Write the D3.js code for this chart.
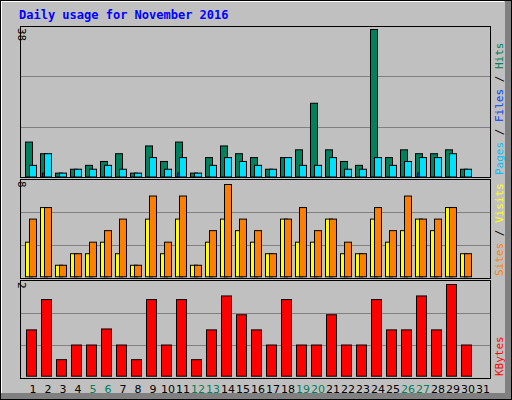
<!DOCTYPE html>
<html><head><meta charset="utf-8">
<script src="https://cdn.jsdelivr.net/npm/d3@7"></script>
<style>body{margin:0;background:#fff}</style></head>
<body><svg id="c" width="512" height="400"></svg>
<script>
const days = d3.range(1, 32);
const weekend = [5, 6, 12, 13, 19, 20, 26, 27];
const hits  = [9,6,1,2,3,4,6,1,8,4,9,1,5,8,6,5,2,5,7,19,7,4,3,38,5,7,6,6,7,2,0];
const files = [0,1,0,0,0,0,0,0,0,0,1,0,0,0,0,0,0,0,0,0,0,0,0,0,0,0,1,0,0,0,0];
const pages = [3,6,1,2,2,3,2,1,5,2,5,1,3,5,4,3,2,5,3,3,5,2,2,5,3,4,5,5,6,2,0];
const visits= [5,6,1,2,3,4,5,1,7,3,7,1,4,8,5,4,2,5,6,4,5,3,2,6,4,7,5,5,6,2,0];
const sites = [3,6,1,2,2,3,2,1,5,2,5,1,3,5,4,3,2,5,3,3,5,2,2,5,3,4,5,4,6,2,0];
const kbytes= [1.01,1.67,0.36,0.68,0.68,1.03,0.68,0.36,1.67,0.68,1.67,0.36,1.01,1.75,1.34,1.01,0.68,1.67,0.68,0.68,1.34,0.68,0.68,1.67,1.01,1.01,1.75,1.01,2.0,0.68,0];

const svg = d3.select("#c");
svg.append("rect").attr("x",0).attr("y",0).attr("width",512).attr("height",400).attr("fill","#c0c0c0");
svg.append("rect").attr("x",505).attr("y",0).attr("width",7).attr("height",400).attr("fill","#808080");
svg.append("rect").attr("x",0).attr("y",393).attr("width",512).attr("height",7).attr("fill","#808080");
svg.append("rect").attr("x",0.5).attr("y",0.5).attr("width",511).attr("height",399).attr("fill","none").attr("stroke","#000");
svg.append("line").attr("x1",1.5).attr("y1",1.5).attr("x2",504).attr("y2",1.5).attr("stroke","#fff");
svg.append("line").attr("x1",1.5).attr("y1",1.5).attr("x2",1.5).attr("y2",393).attr("stroke","#fff");

svg.append("text").attr("x",19).attr("y",19).text("Daily usage for November 2016")
  .attr("font-family","DejaVu Sans Mono").attr("font-weight","bold").attr("font-size",12).attr("fill","#0000ff");

const x = d3.scaleLinear().domain([1,31]).range([25,475]);
const mono = "DejaVu Sans Mono";

const panels = [
  {top:26, bot:177, base:176.5, maxY:29, max:38, label:"38",
   series:[{v:hits,c:"#00805c",dx:0,w:7},{v:files,c:"#0040ff",dx:2,w:7},{v:pages,c:"#00e0ff",dx:4,w:7}],
   legend:[["Pages","#00c0ff"],[" / ","#000"],["Files","#0040ff"],[" / ","#000"],["Hits","#00805c"]]},
  {top:179, bot:278, base:276.3, maxY:184, max:8, label:"8",
   series:[{v:sites,c:"#ffff00",dx:0,w:7},{v:visits,c:"#ff8000",dx:4,w:7}],
   legend:[["Sites","#ff8000"],[" / ","#000"],["Visits","#ffff00"]]},
  {top:280, bot:378, base:375.7, maxY:284, max:2, label:"2",
   series:[{v:kbytes,c:"#ff0000",dx:1,w:10}],
   legend:[["KBytes","#ff0000"]]}
];

panels.forEach(p => {
  const y = d3.scaleLinear().domain([0,p.max]).range([p.base,p.maxY]);
  svg.append("rect").attr("x",20.5).attr("y",p.top+0.5).attr("width",470).attr("height",p.bot-p.top)
     .attr("fill","#c0c0c0").attr("stroke","#000");
  const h = p.bot - p.top;
  [1,2].forEach(k => svg.append("line").attr("x1",21).attr("x2",490)
     .attr("y1",Math.round(p.top + h*k/3)+0.5).attr("y2",Math.round(p.top + h*k/3)+0.5).attr("stroke","#808080"));
  p.series.forEach(s => {
    svg.append("g").selectAll("rect").data(days.filter((d,i)=>s.v[i]>0)).join("rect")
      .attr("x", d => x(d)+s.dx+0.5).attr("width", s.w)
      .attr("y", d => y(s.v[d-1])+0.5).attr("height", d => y(0)-y(s.v[d-1]))
      .attr("fill", s.c).attr("stroke","#000");
  });
  svg.append("text").attr("transform",`translate(18,${p.top+2}) rotate(90)`).text(p.label)
    .attr("font-family",mono).attr("font-size",11).attr("fill","#000");
  const t = svg.append("text").attr("transform",`translate(503,${p.bot-2}) rotate(-90)`)
    .attr("font-family",mono).attr("font-size",11);
  p.legend.forEach(([s,c]) => t.append("tspan").text(s).attr("fill",c));
});

svg.append("g").selectAll("text").data(days).join("text")
  .attr("x", d => x(d)+8).attr("y", 393).attr("text-anchor","middle")
  .text(d=>d).attr("font-family","DejaVu Sans").attr("font-size",11)
  .attr("fill", d => weekend.includes(d) ? "#00805c" : "#000");
</script></body></html>
